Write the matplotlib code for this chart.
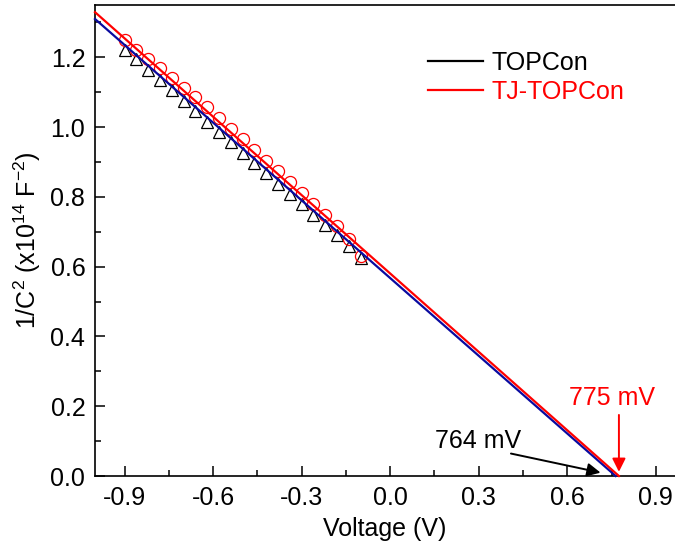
import numpy as np
import matplotlib
matplotlib.use("Agg")
import matplotlib.pyplot as plt
from matplotlib.lines import Line2D

plt.rcParams['font.family'] = ['Liberation Sans', 'DejaVu Sans']
plt.rcParams['mathtext.fontset'] = 'custom'
plt.rcParams['mathtext.rm'] = 'Liberation Sans'
plt.rcParams['mathtext.it'] = 'Liberation Sans:italic'
plt.rcParams['mathtext.bf'] = 'Liberation Sans:bold'

# ---- data ----
voltage = [-0.90, -0.86, -0.82, -0.78, -0.74, -0.70, -0.66, -0.62, -0.58, -0.54,
           -0.50, -0.46, -0.42, -0.38, -0.34, -0.30, -0.26, -0.22, -0.18, -0.14, -0.10]
topcon = [1.220, 1.194, 1.164, 1.135, 1.105, 1.076, 1.046, 1.016, 0.986, 0.957,
          0.927, 0.898, 0.868, 0.838, 0.808, 0.779, 0.749, 0.719, 0.690, 0.660, 0.625]
tj_topcon = [1.250, 1.222, 1.196, 1.168, 1.142, 1.113, 1.085, 1.058, 1.026, 0.996,
             0.966, 0.934, 0.903, 0.873, 0.843, 0.811, 0.780, 0.748, 0.716, 0.678, 0.632]
# linear fits: intercept voltage (V) and slope (x1e14 F^-2 / V)
fit_voc = {"TOPCon": 0.764, "TJ-TOPCon": 0.775}
fit_slope = {"TOPCon": 0.7426, "TJ-TOPCon": 0.749}
series_names = ["TOPCon", "TJ-TOPCon"]
x_ticks = [-0.9, -0.6, -0.3, 0.0, 0.3, 0.6, 0.9]
y_ticks = [0.0, 0.2, 0.4, 0.6, 0.8, 1.0, 1.2]

FS = 18
W, H = 675, 552
fig = plt.figure(figsize=(W / 100, H / 100), dpi=100)
ax = fig.add_axes([95 / W, (H - 476) / H, 580 / W, 471 / H])

xmin, xmax = -1.0, 0.965
ax.set_xlim(xmin, xmax)
ax.set_ylim(0, 1.35)

ax.plot(voltage, topcon, linestyle='none', marker='^', ms=9, mfc='none',
        mec='black', mew=0.9, zorder=2)
ax.plot(voltage, tj_topcon, linestyle='none', marker='o', ms=8.7, mfc='none',
        mec='#ff0000', mew=0.9, zorder=2)

fit_colors = {"TOPCon": "#0a0aa0", "TJ-TOPCon": "#ff0000"}
for name in series_names:
    xs = np.linspace(xmin, fit_voc[name], 50)
    ys = fit_slope[name] * (fit_voc[name] - xs)
    ax.plot(xs, ys, color=fit_colors[name], lw=1.6, zorder=3, clip_on=False)

ax.set_xticks(x_ticks)
ax.set_xticklabels([f"{v:.1f}" for v in x_ticks])
ax.set_yticks(y_ticks)
ax.set_yticklabels([f"{v:.1f}" for v in y_ticks])
ax.set_xticks(np.arange(-0.75, 0.95, 0.3), minor=True)
ax.set_yticks(np.arange(0.1, 1.35, 0.2), minor=True)
ax.tick_params(which='both', direction='in', labelsize=FS, width=1.1)
ax.tick_params(which='major', length=7, pad=7)
ax.tick_params(which='minor', length=4)
ax.tick_params(axis='x', pad=7)

for s in ['left', 'bottom', 'top']:
    ax.spines[s].set_linewidth(1.2)
ax.spines['right'].set_visible(False)

ax.set_xlabel("Voltage (V)", fontsize=FS, labelpad=5)
ax.set_ylabel("1/C$^{2}$ (x10$^{14}$ F$^{-2}$)", fontsize=FS, labelpad=5)

# annotations
ax.text(0.297, 0.100, "764 mV", fontsize=FS, color='black', ha='center', va='center')
ax.annotate("", xy=(0.722, 0.008), xytext=(0.40, 0.066),
            arrowprops=dict(arrowstyle='-|>', color='black', lw=1.4, mutation_scale=20))
ax.text(0.75, 0.2235, "775 mV", fontsize=FS, color='#ff0000', ha='center', va='center')
ax.annotate("", xy=(fit_voc["TJ-TOPCon"], 0.004), xytext=(fit_voc["TJ-TOPCon"], 0.183),
            arrowprops=dict(arrowstyle='-|>', color='#ff0000', lw=1.4, mutation_scale=20))

handles = [Line2D([], [], color='black', lw=1.6), Line2D([], [], color='#ff0000', lw=1.6)]
leg = fig.legend(handles, series_names, loc='upper left', bbox_to_anchor=(428 / W, 1 - 51 / H),
                 frameon=False, fontsize=FS, handlelength=2.2, handletextpad=0.35,
                 borderpad=0, borderaxespad=0, labelspacing=0.2)
for t, c in zip(leg.get_texts(), ['black', '#ff0000']):
    t.set_color(c)

fig.savefig("out.png", dpi=100)
